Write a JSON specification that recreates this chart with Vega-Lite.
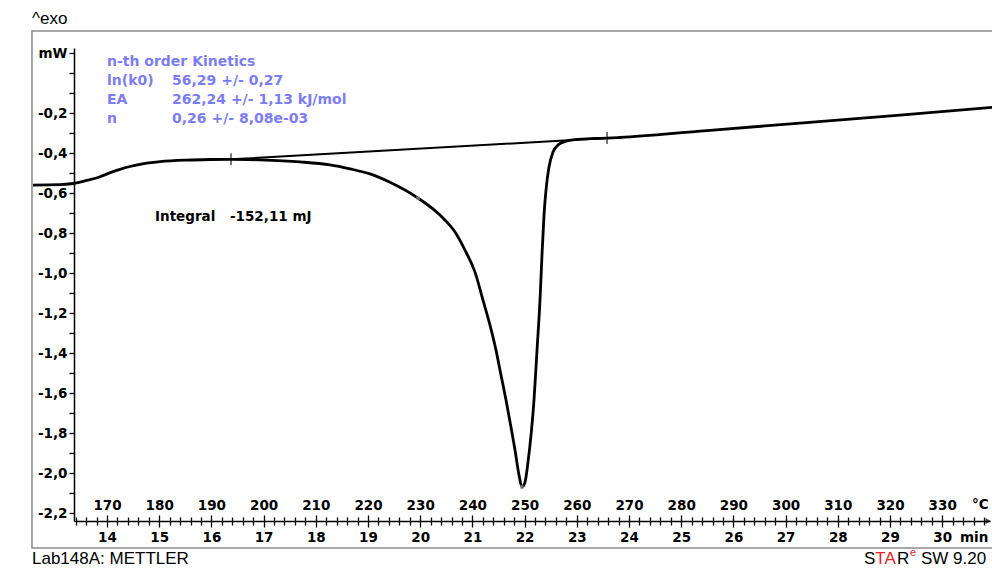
{
  "$schema": "https://vega.github.io/schema/vega-lite/v6.json",
  "width": 916,
  "height": 473,
  "autosize": {"type": "none"},
  "padding": {"left": 74, "top": 48, "right": 2, "bottom": 48},
  "background": "white",
  "config": {
    "view": {"stroke": null},
    "axis": {
      "grid": false,
      "labelFont": "DejaVu Sans",
      "labelFontWeight": "bold",
      "labelFontSize": 13.5,
      "labelColor": "black",
      "tickColor": "black",
      "domainColor": "black",
      "labelOverlap": false,
      "labelFlush": false,
      "labelBound": false
    }
  },
  "datasets": {
    "curve": [
      {"t": 12.582, "mW": -0.559},
      {"t": 13.100, "mW": -0.557},
      {"t": 13.349, "mW": -0.551},
      {"t": 13.617, "mW": -0.535},
      {"t": 13.866, "mW": -0.517},
      {"t": 14.050, "mW": -0.498},
      {"t": 14.249, "mW": -0.480},
      {"t": 14.440, "mW": -0.466},
      {"t": 14.632, "mW": -0.455},
      {"t": 15.015, "mW": -0.442},
      {"t": 15.533, "mW": -0.434},
      {"t": 15.973, "mW": -0.431},
      {"t": 16.375, "mW": -0.430},
      {"t": 16.931, "mW": -0.433},
      {"t": 17.697, "mW": -0.443},
      {"t": 18.272, "mW": -0.458},
      {"t": 18.655, "mW": -0.478},
      {"t": 19.038, "mW": -0.503},
      {"t": 19.421, "mW": -0.545},
      {"t": 19.958, "mW": -0.624},
      {"t": 20.379, "mW": -0.709},
      {"t": 20.667, "mW": -0.794},
      {"t": 20.858, "mW": -0.884},
      {"t": 21.050, "mW": -0.994},
      {"t": 21.203, "mW": -1.134},
      {"t": 21.337, "mW": -1.259},
      {"t": 21.452, "mW": -1.384},
      {"t": 21.548, "mW": -1.509},
      {"t": 21.644, "mW": -1.634},
      {"t": 21.739, "mW": -1.769},
      {"t": 21.816, "mW": -1.884},
      {"t": 21.893, "mW": -2.009},
      {"t": 21.950, "mW": -2.069},
      {"t": 22.008, "mW": -2.044},
      {"t": 22.065, "mW": -1.944},
      {"t": 22.123, "mW": -1.809},
      {"t": 22.180, "mW": -1.634},
      {"t": 22.238, "mW": -1.384},
      {"t": 22.295, "mW": -1.134},
      {"t": 22.333, "mW": -0.909},
      {"t": 22.372, "mW": -0.709},
      {"t": 22.410, "mW": -0.584},
      {"t": 22.467, "mW": -0.469},
      {"t": 22.544, "mW": -0.394},
      {"t": 22.640, "mW": -0.359},
      {"t": 22.774, "mW": -0.341},
      {"t": 23.004, "mW": -0.331},
      {"t": 23.349, "mW": -0.326},
      {"t": 23.579, "mW": -0.324},
      {"t": 23.828, "mW": -0.321},
      {"t": 25.360, "mW": -0.289},
      {"t": 27.276, "mW": -0.249},
      {"t": 29.192, "mW": -0.209},
      {"t": 31.100, "mW": -0.167}
    ],
    "baseline": [
      {"t": 16.375, "mW": -0.430},
      {"t": 23.579, "mW": -0.324}
    ],
    "limits": [
      {"t": 16.375, "mW": -0.430},
      {"t": 23.579, "mW": -0.324}
    ],
    "marks": [
      {"t": 19.958, "mW": -0.624},
      {"t": 21.950, "mW": -2.069}
    ]
  },
  "resolve": {"axis": {"x": "independent", "y": "independent"}},
  "layer": [
    {
      "data": {"values": [{}]},
      "mark": {"type": "rect", "filled": false, "stroke": "#8a8a8a", "strokeWidth": 1.5},
      "encoding": {
        "x": {"datum": 12.563, "type": "quantitative", "axis": null},
        "x2": {"datum": 31.4},
        "y": {"datum": 0.2115, "type": "quantitative", "axis": null},
        "y2": {"datum": -2.3735}
      }
    },
    {
      "data": {"name": "baseline"},
      "mark": {"type": "line", "color": "black", "strokeWidth": 2},
      "encoding": {
        "x": {
          "field": "t", "type": "quantitative",
          "axis": {
            "orient": "top", "offset": -473, "domain": false, "title": null,
            "values": [13.4,13.6,13.8,14,14.2,14.4,14.6,14.8,15,15.2,15.4,15.6,15.8,16,16.2,16.4,16.6,16.8,17,17.2,17.4,17.6,17.8,18,18.2,18.4,18.6,18.8,19,19.2,19.4,19.6,19.8,20,20.2,20.4,20.6,20.8,21,21.2,21.4,21.6,21.8,22,22.2,22.4,22.6,22.8,23,23.2,23.4,23.6,23.8,24,24.2,24.4,24.6,24.8,25,25.2,25.4,25.6,25.8,26,26.2,26.4,26.6,26.8,27,27.2,27.4,27.6,27.8,28,28.2,28.4,28.6,28.8,29,29.2,29.4,29.6,29.8,30,30.2,30.4,30.6,30.8],
            "tickWidth": 1.3,
            "tickSize": {"condition": {"test": "abs(datum.value - round(datum.value)) < 0.01", "value": 6}, "value": 4},
            "labelPadding": 3,
            "labelExpr": "abs(datum.value - round(datum.value)) < 0.01 ? '' + round(datum.value * 10 + 30) : ''"
          }
        },
        "y": {"field": "mW", "type": "quantitative", "axis": null}
      }
    },
    {
      "data": {"name": "curve"},
      "mark": {"type": "line", "color": "black", "strokeWidth": 2.8, "interpolate": "monotone"},
      "encoding": {
        "x": {
          "field": "t", "type": "quantitative",
          "scale": {"domain": [13.3678, 30.9157], "nice": false, "zero": false},
          "axis": {
            "orient": "bottom", "title": null, "domainWidth": 1.5,
            "values": [13.4,13.6,13.8,14,14.2,14.4,14.6,14.8,15,15.2,15.4,15.6,15.8,16,16.2,16.4,16.6,16.8,17,17.2,17.4,17.6,17.8,18,18.2,18.4,18.6,18.8,19,19.2,19.4,19.6,19.8,20,20.2,20.4,20.6,20.8,21,21.2,21.4,21.6,21.8,22,22.2,22.4,22.6,22.8,23,23.2,23.4,23.6,23.8,24,24.2,24.4,24.6,24.8,25,25.2,25.4,25.6,25.8,26,26.2,26.4,26.6,26.8,27,27.2,27.4,27.6,27.8,28,28.2,28.4,28.6,28.8,29,29.2,29.4,29.6,29.8,30,30.2,30.4,30.6,30.8],
            "tickWidth": 1.3,
            "tickSize": {"condition": {"test": "abs(datum.value - round(datum.value)) < 0.01", "value": 6}, "value": 4},
            "labelPadding": 3,
            "labelExpr": "abs(datum.value - round(datum.value)) < 0.01 ? '' + round(datum.value) : ''"
          }
        },
        "y": {
          "field": "mW", "type": "quantitative",
          "scale": {"domain": [-2.2385, 0.1265], "nice": false, "zero": false},
          "axis": {
            "orient": "left", "title": null, "domainWidth": 1.5,
            "values": [0.1,0,-0.1,-0.2,-0.3,-0.4,-0.5,-0.6,-0.7,-0.8,-0.9,-1.0,-1.1,-1.2,-1.3,-1.4,-1.5,-1.6,-1.7,-1.8,-1.9,-2.0,-2.1,-2.2],
            "tickWidth": 1.3,
            "tickSize": 5,
            "labelPadding": 2,
            "labelExpr": "abs(datum.value - 0.1) < 0.001 ? 'mW' : ((abs(round(datum.value * 10)) % 2 == 0 && datum.value < -0.05) ? '-' + replace(format(abs(datum.value), '.1f'), '.', ',') : '')"
          }
        }
      }
    },
    {
      "data": {"name": "limits"},
      "mark": {"type": "tick", "orient": "vertical", "color": "black", "size": 12, "thickness": 1.5},
      "encoding": {
        "x": {"field": "t", "type": "quantitative", "axis": null},
        "y": {"field": "mW", "type": "quantitative", "axis": null}
      }
    },
    {
      "data": {"name": "marks"},
      "mark": {"type": "point", "shape": "cross", "angle": 45, "filled": true, "color": "#9a9a9a", "size": 22},
      "encoding": {
        "x": {"field": "t", "type": "quantitative", "axis": null},
        "y": {"field": "mW", "type": "quantitative", "axis": null}
      }
    },
    {
      "data": {"values": [{}]},
      "mark": {"type": "point", "shape": "triangle-right", "filled": true, "color": "black", "size": 35},
      "encoding": {
        "x": {"datum": 30.88, "type": "quantitative", "axis": null},
        "y": {"datum": -2.2385, "type": "quantitative", "axis": null}
      }
    },
    {
      "data": {"values": [{}]},
      "mark": {"type": "text", "align": "left", "baseline": "middle", "font": "DejaVu Sans", "fontWeight": "bold", "fontSize": 14, "color": "#7d7df2", "lineHeight": 19},
      "encoding": {
        "x": {"datum": 14.0, "type": "quantitative", "axis": null},
        "y": {"datum": 0.058, "type": "quantitative", "axis": null},
        "text": {"value": ["n-th order Kinetics", "ln(k0)", "EA", "n"]}
      }
    },
    {
      "data": {"values": [{}]},
      "mark": {"type": "text", "align": "left", "baseline": "middle", "font": "DejaVu Sans", "fontWeight": "bold", "fontSize": 14, "color": "#7d7df2", "lineHeight": 19},
      "encoding": {
        "x": {"datum": 15.245, "type": "quantitative", "axis": null},
        "y": {"datum": 0.058, "type": "quantitative", "axis": null},
        "text": {"value": [" ", "56,29 +/- 0,27", "262,24 +/- 1,13 kJ/mol", "0,26 +/- 8,08e-03"]}
      }
    },
    {
      "data": {"values": [{}]},
      "mark": {"type": "text", "align": "left", "baseline": "middle", "font": "DejaVu Sans", "fontWeight": "bold", "fontSize": 13.5, "color": "black"},
      "encoding": {
        "x": {"datum": 14.92, "type": "quantitative", "axis": null},
        "y": {"datum": -0.7185, "type": "quantitative", "axis": null},
        "text": {"value": "Integral"}
      }
    },
    {
      "data": {"values": [{}]},
      "mark": {"type": "text", "align": "left", "baseline": "middle", "font": "DejaVu Sans", "fontWeight": "bold", "fontSize": 13.5, "color": "black"},
      "encoding": {
        "x": {"datum": 16.356, "type": "quantitative", "axis": null},
        "y": {"datum": -0.7185, "type": "quantitative", "axis": null},
        "text": {"value": "-152,11 mJ"}
      }
    },
    {
      "data": {"values": [{}]},
      "mark": {"type": "text", "align": "left", "baseline": "middle", "font": "DejaVu Sans", "fontWeight": "bold", "fontSize": 13.5, "color": "black"},
      "encoding": {
        "x": {"datum": 30.571, "type": "quantitative", "axis": null},
        "y": {"datum": -2.1585, "type": "quantitative", "axis": null},
        "text": {"value": "°C"}
      }
    },
    {
      "data": {"values": [{}]},
      "mark": {"type": "text", "align": "left", "baseline": "middle", "font": "DejaVu Sans", "fontWeight": "bold", "fontSize": 13.5, "color": "black"},
      "encoding": {
        "x": {"datum": 30.341, "type": "quantitative", "axis": null},
        "y": {"datum": -2.3235, "type": "quantitative", "axis": null},
        "text": {"value": "min"}
      }
    },
    {
      "data": {"values": [{}]},
      "mark": {"type": "text", "align": "left", "baseline": "middle", "font": "Liberation Sans", "fontSize": 17, "color": "black"},
      "encoding": {
        "x": {"datum": 12.563, "type": "quantitative", "axis": null},
        "y": {"datum": 0.2715, "type": "quantitative", "axis": null},
        "text": {"value": "^exo"}
      }
    },
    {
      "data": {"values": [{}]},
      "mark": {"type": "text", "align": "left", "baseline": "middle", "font": "Liberation Sans", "fontSize": 17, "color": "black"},
      "encoding": {
        "x": {"datum": 12.563, "type": "quantitative", "axis": null},
        "y": {"datum": -2.4285, "type": "quantitative", "axis": null},
        "text": {"value": "Lab148A: METTLER"}
      }
    },
    {
      "data": {"values": [{}]},
      "mark": {"type": "text", "align": "left", "baseline": "middle", "font": "Liberation Sans", "fontSize": 17, "color": "black"},
      "encoding": {
        "x": {"datum": 28.502, "type": "quantitative", "axis": null},
        "y": {"datum": -2.4285, "type": "quantitative", "axis": null},
        "text": {"value": "S"}
      }
    },
    {
      "data": {"values": [{}]},
      "mark": {"type": "text", "align": "left", "baseline": "middle", "font": "Liberation Sans", "fontSize": 17, "color": "#e8231f"},
      "encoding": {
        "x": {"datum": 28.718, "type": "quantitative", "axis": null},
        "y": {"datum": -2.4285, "type": "quantitative", "axis": null},
        "text": {"value": "TA"}
      }
    },
    {
      "data": {"values": [{}]},
      "mark": {"type": "text", "align": "left", "baseline": "middle", "font": "Liberation Sans", "fontSize": 17, "color": "black"},
      "encoding": {
        "x": {"datum": 29.134, "type": "quantitative", "axis": null},
        "y": {"datum": -2.4285, "type": "quantitative", "axis": null},
        "text": {"value": "R"}
      }
    },
    {
      "data": {"values": [{}]},
      "mark": {"type": "text", "align": "left", "baseline": "middle", "font": "Liberation Sans", "fontSize": 11, "color": "#e8231f"},
      "encoding": {
        "x": {"datum": 29.383, "type": "quantitative", "axis": null},
        "y": {"datum": -2.398, "type": "quantitative", "axis": null},
        "text": {"value": "e"}
      }
    },
    {
      "data": {"values": [{}]},
      "mark": {"type": "text", "align": "left", "baseline": "middle", "font": "Liberation Sans", "fontSize": 17, "color": "black"},
      "encoding": {
        "x": {"datum": 29.594, "type": "quantitative", "axis": null},
        "y": {"datum": -2.4285, "type": "quantitative", "axis": null},
        "text": {"value": "SW 9.20"}
      }
    }
  ]
}
